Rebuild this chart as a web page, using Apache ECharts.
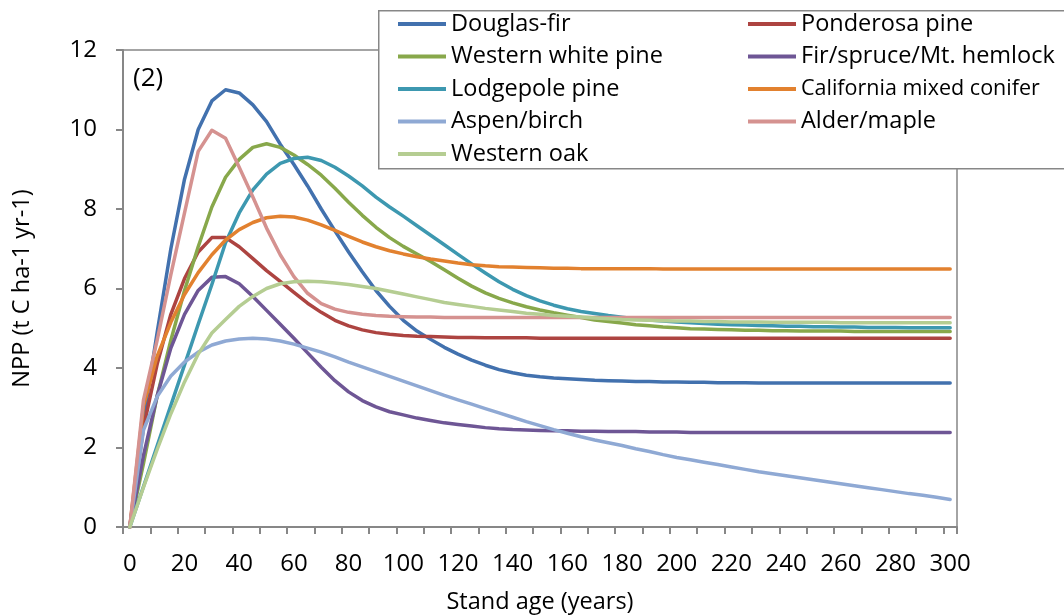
<!DOCTYPE html>
<html>
<head>
<meta charset="utf-8">
<script src="https://cdn.jsdelivr.net/npm/echarts/dist/echarts.min.js"></script>
<style>
  html, body { margin: 0; padding: 0; background: #fff; }
  #chart { width: 1064px; height: 616px; }
</style>
</head>
<body>
<div id="chart"></div>
<script>
// Stand age categories (years), every 5 years
const years = [];
for (let y = 0; y <= 300; y += 5) years.push(String(y));

const douglasFir = [0,2.7,4.9,7.0,8.75,10.0,10.72,11.0,10.92,10.62,
  10.2,9.63,9.12,8.58,8.0,7.45,6.92,6.42,5.95,5.55,
  5.2,4.93,4.72,4.52,4.35,4.2,4.07,3.96,3.88,3.82,
  3.78,3.75,3.73,3.71,3.69,3.68,3.67,3.66,3.66,3.65,
  3.65,3.64,3.64,3.63,3.63,3.63,3.62,3.62,3.62,3.62,
  3.62,3.62,3.62,3.62,3.62,3.62,3.62,3.62,3.62,3.62,
  3.62];
const ponderosaPine = [0,2.5,4.1,5.35,6.25,6.92,7.28,7.28,7.05,6.75,
  6.45,6.18,5.9,5.63,5.4,5.2,5.06,4.96,4.89,4.85,
  4.82,4.8,4.79,4.78,4.77,4.77,4.76,4.76,4.76,4.76,
  4.75,4.75,4.75,4.75,4.75,4.75,4.75,4.75,4.75,4.75,
  4.75,4.75,4.75,4.75,4.75,4.75,4.75,4.75,4.75,4.75,
  4.75,4.75,4.75,4.75,4.75,4.75,4.75,4.75,4.75,4.75,
  4.75];
const westernWhitePine = [0,1.6,3.3,4.7,5.95,7.05,8.05,8.8,9.25,9.55,
  9.64,9.55,9.36,9.12,8.85,8.52,8.17,7.84,7.54,7.28,
  7.06,6.87,6.68,6.47,6.26,6.06,5.89,5.75,5.64,5.54,
  5.46,5.39,5.33,5.27,5.21,5.17,5.13,5.09,5.06,5.03,
  5.01,4.99,4.98,4.97,4.96,4.95,4.95,4.94,4.94,4.93,
  4.93,4.93,4.93,4.92,4.92,4.92,4.92,4.92,4.92,4.92,
  4.92];
const firSpruceHemlock = [0,1.8,3.3,4.5,5.35,5.95,6.28,6.3,6.12,5.8,
  5.45,5.1,4.75,4.38,4.02,3.68,3.4,3.18,3.02,2.9,
  2.82,2.74,2.68,2.62,2.58,2.54,2.5,2.47,2.45,2.44,
  2.43,2.42,2.42,2.41,2.41,2.4,2.4,2.4,2.39,2.39,
  2.39,2.38,2.38,2.38,2.38,2.38,2.38,2.38,2.38,2.38,
  2.38,2.38,2.38,2.38,2.38,2.38,2.38,2.38,2.38,2.38,
  2.38];
const lodgepolePine = [0,1.02,2.04,3.06,4.08,5.1,6.1,7.15,7.9,8.48,
  8.88,9.15,9.27,9.3,9.22,9.05,8.83,8.58,8.3,8.05,
  7.82,7.58,7.34,7.1,6.86,6.62,6.39,6.17,5.98,5.82,
  5.69,5.58,5.49,5.42,5.37,5.32,5.28,5.24,5.21,5.18,
  5.16,5.14,5.12,5.1,5.09,5.08,5.07,5.06,5.05,5.05,
  5.04,5.04,5.03,5.03,5.02,5.02,5.02,5.01,5.01,5.01,
  5.01];
const californiaMixedConifer = [0,3.05,4.3,5.15,5.85,6.4,6.85,7.22,7.48,7.66,
  7.78,7.82,7.8,7.72,7.6,7.46,7.31,7.17,7.05,6.95,
  6.87,6.8,6.74,6.69,6.64,6.6,6.57,6.55,6.54,6.53,
  6.52,6.51,6.51,6.5,6.5,6.5,6.5,6.5,6.5,6.49,
  6.49,6.49,6.49,6.49,6.49,6.49,6.49,6.49,6.49,6.49,
  6.49,6.49,6.49,6.49,6.49,6.49,6.49,6.49,6.49,6.49,
  6.49];
const aspenBirch = [0,2.44,3.28,3.8,4.15,4.4,4.58,4.68,4.73,4.75,
  4.73,4.68,4.6,4.5,4.4,4.28,4.15,4.03,3.91,3.79,
  3.67,3.55,3.43,3.31,3.2,3.09,2.98,2.87,2.76,2.65,
  2.55,2.45,2.36,2.27,2.19,2.12,2.05,1.97,1.9,1.82,
  1.75,1.69,1.63,1.57,1.51,1.45,1.39,1.34,1.29,1.24,
  1.19,1.14,1.09,1.04,0.99,0.94,0.89,0.84,0.8,0.75,
  0.69];
const alderMaple = [0,3.2,4.7,6.35,7.9,9.45,9.98,9.78,9.05,8.3,
  7.52,6.85,6.3,5.88,5.62,5.48,5.4,5.35,5.32,5.3,
  5.29,5.28,5.28,5.27,5.27,5.27,5.27,5.27,5.27,5.27,
  5.27,5.27,5.27,5.27,5.27,5.27,5.27,5.27,5.27,5.27,
  5.27,5.27,5.27,5.27,5.27,5.27,5.27,5.27,5.27,5.27,
  5.27,5.27,5.27,5.27,5.27,5.27,5.27,5.27,5.27,5.27,
  5.27];
const westernOak = [0,1.0,1.95,2.85,3.65,4.35,4.88,5.22,5.55,5.8,
  6.0,6.12,6.17,6.18,6.17,6.14,6.1,6.05,6.0,5.93,
  5.86,5.79,5.72,5.65,5.6,5.55,5.5,5.46,5.42,5.38,
  5.35,5.32,5.3,5.28,5.26,5.24,5.22,5.21,5.2,5.19,
  5.18,5.18,5.17,5.17,5.16,5.16,5.16,5.15,5.15,5.15,
  5.15,5.15,5.14,5.14,5.14,5.14,5.14,5.14,5.14,5.14,
  5.14];

const seriesNames = ['Douglas-fir','Ponderosa pine','Western white pine','Fir/spruce/Mt. hemlock',
  'Lodgepole pine','California mixed conifer','Aspen/birch','Alder/maple','Western oak'];
const seriesData = [douglasFir, ponderosaPine, westernWhitePine, firSpruceHemlock,
  lodgepolePine, californiaMixedConifer, aspenBirch, alderMaple, westernOak];
const seriesColors = ['#4271AE','#AD4441','#88A84B','#6E5695','#3D98B0','#E2812F','#8FA9D4','#D59290','#B5CD92'];

const FONT = "'Open Sans', 'Noto Sans', sans-serif";
const AXIS_GRAY = '#878787';

const chart = echarts.init(document.getElementById('chart'), null, { renderer: 'canvas' });

const legendCommon = {
  orient: 'vertical',
  icon: 'rect',
  itemWidth: 48,
  itemHeight: 4,
  itemGap: 8.5,
  z: 10,
  selectedMode: false,
  textStyle: { fontFamily: FONT, fontSize: 23.5, color: '#000', lineHeight: 24, padding: [0, 0, 0, 0] }
};

chart.setOption({
  animation: false,
  backgroundColor: '#fff',
  grid: { left: 123, right: 107, top: 50, bottom: 89, show: true, borderColor: AXIS_GRAY, borderWidth: 1.5,
          containLabel: false, outerBoundsMode: 'none' },
  legend: [
    Object.assign({}, legendCommon, { left: 393, top: 7,
      data: [seriesNames[0], seriesNames[2], seriesNames[4], seriesNames[6], seriesNames[8]] }),
    Object.assign({}, legendCommon, { left: 743, top: 7,
      data: [seriesNames[1], seriesNames[3],
             { name: seriesNames[5], textStyle: { fontSize: 21.5 } },
             seriesNames[7]] })
  ],
  graphic: [
    { type: 'rect', left: 378, top: 10, z: 3, shape: { width: 720, height: 158 },
      style: { fill: '#fff', stroke: AXIS_GRAY, lineWidth: 1.5 } },
    { type: 'text', left: 133, top: 66, z: 5, style: { text: '(2)', font: "26px 'Open Sans'", fill: '#000' } }
  ],
  xAxis: {
    type: 'category',
    data: years,
    boundaryGap: true,
    name: 'Stand age (years)',
    nameLocation: 'middle',
    nameGap: 63,
    nameTextStyle: { fontFamily: FONT, fontSize: 23.5, color: '#000' },
    axisLine: { lineStyle: { color: AXIS_GRAY, width: 2 } },
    axisTick: { show: true, interval: 1, length: 7, lineStyle: { color: AXIS_GRAY, width: 2 } },
    axisLabel: { interval: 3, margin: 25, fontFamily: FONT, fontSize: 24, color: '#000' },
    splitLine: { show: false }
  },
  yAxis: {
    type: 'value',
    min: 0, max: 12, interval: 2,
    name: 'NPP (t C ha-1 yr-1)',
    nameLocation: 'middle',
    nameRotate: 90,
    nameGap: 89,
    nameTextStyle: { fontFamily: FONT, fontSize: 23.5, color: '#000' },
    axisLine: { show: true, lineStyle: { color: AXIS_GRAY, width: 2 } },
    axisTick: { show: true, length: 7, lineStyle: { color: AXIS_GRAY, width: 2 } },
    axisLabel: { margin: 26, fontFamily: FONT, fontSize: 24, color: '#000' },
    splitLine: { show: false }
  },
  series: seriesNames.map((name, i) => ({
    name: name,
    type: 'line',
    data: seriesData[i],
    symbol: 'none',
    showSymbol: false,
    smooth: false,
    color: seriesColors[i],
    lineStyle: { width: 3.5, color: seriesColors[i], cap: 'round', join: 'round' },
    emphasis: { disabled: true },
    z: 2
  }))
});
</script>
</body>
</html>
